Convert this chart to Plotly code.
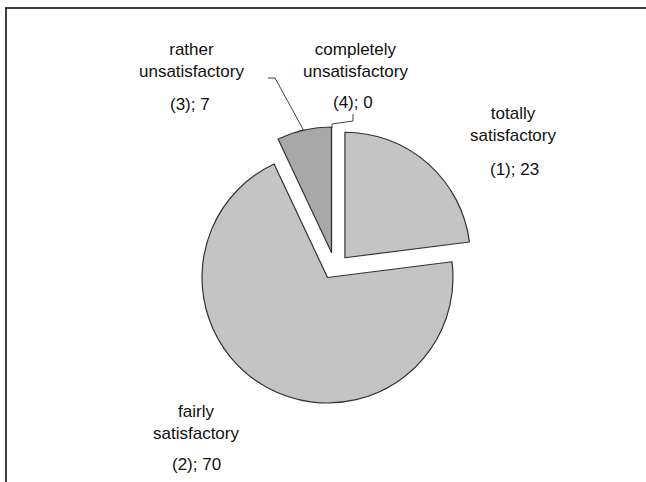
import plotly.graph_objects as go

# Survey answers, in clockwise order from 12 o'clock
codes = [1, 2, 3, 4]
names = ["totally<br>satisfactory", "fairly<br>satisfactory",
         "rather<br>unsatisfactory", "completely<br>unsatisfactory"]
values = [23, 70, 7, 0]
colors = ["#c4c4c4", "#c4c4c4", "#a8a8a8", "#a8a8a8"]

W, H = 646, 482
CX, CY, R = 327.5, 277.5, 125.5   # pie centre and radius, in pixels


def px(x):
    return x / W


def py(y):
    return 1 - y / H


def box(cx, cy, half):
    return dict(x=[px(cx - half), px(cx + half)], y=[py(cy + half), py(cy - half)])


labels = [n.replace("<br>", " ") for n in names]
edge = "#333333"

# main pie: "totally satisfactory" exploded to the upper right
pull_main = [0.21, 0.0, 0.0, 0.0]
main = go.Pie(
    values=values, labels=labels, sort=False, direction="clockwise", rotation=0,
    pull=pull_main, textinfo="none", hoverinfo="label+value",
    marker=dict(colors=[colors[0], colors[1], "rgba(0,0,0,0)", "rgba(0,0,0,0)"],
                line=dict(color=[edge, edge, "rgba(0,0,0,0)", "rgba(0,0,0,0)"], width=1.2)),
    domain=box(CX, CY, R * (1 + max(pull_main))),
    showlegend=False,
)

# "rather unsatisfactory" wedge, lifted straight up from the centre
lift_x, lift_y = 4, -25
rather = go.Pie(
    values=values, labels=labels, sort=False, direction="clockwise", rotation=0,
    textinfo="none", hoverinfo="skip",
    marker=dict(colors=["rgba(0,0,0,0)", "rgba(0,0,0,0)", colors[2], "rgba(0,0,0,0)"],
                line=dict(color=["rgba(0,0,0,0)", "rgba(0,0,0,0)", edge, "rgba(0,0,0,0)"], width=1.2)),
    domain=box(CX + lift_x, CY + lift_y, R),
    showlegend=False,
)

fig = go.Figure([main, rather])

font = dict(family="Liberation Sans, Arial, sans-serif", size=17, color="#111111")

# label blocks: (name centre x, name centre y, value centre x, value centre y)
label_pos = [
    (513, 125, 514, 169),
    (196, 422, 196, 464),
    (191, 60, 190, 104),
    (355, 60, 353, 102),
]
annotations = []
for code, name, val, (nx, ny, vx, vy) in zip(codes, names, values, label_pos):
    annotations.append(dict(x=px(nx), y=py(ny), xref="paper", yref="paper",
                            text=name, showarrow=False, font=font,
                            xanchor="center", yanchor="middle"))
    annotations.append(dict(x=px(vx), y=py(vy), xref="paper", yref="paper",
                            text=f"({code}); {val}", showarrow=False, font=font,
                            xanchor="center", yanchor="middle"))

line_style = dict(color="#444444", width=1)
shapes = [
    # frame
    dict(type="line", xref="paper", yref="paper", x0=px(5), y0=py(8), x1=1, y1=py(8),
         line=dict(color="black", width=1.5)),
    dict(type="line", xref="paper", yref="paper", x0=px(6), y0=py(8), x1=px(6), y1=0,
         line=dict(color="black", width=1.5)),
    # leader for "rather unsatisfactory"
    dict(type="path", xref="paper", yref="paper",
         path=f"M {px(268)},{py(78)} L {px(275)},{py(78)} L {px(304)},{py(131)}",
         line=line_style),
    # leader for "completely unsatisfactory"
    dict(type="path", xref="paper", yref="paper",
         path=f"M {px(353)},{py(114)} L {px(353)},{py(121)} L {px(332)},{py(124)} L {px(332)},{py(128)}",
         line=line_style),
    # zero-size wedge at 12 o'clock
    dict(type="line", xref="paper", yref="paper",
         x0=px(CX + lift_x), y0=py(CY + lift_y), x1=px(CX + lift_x), y1=py(CY + lift_y - R),
         line=dict(color=edge, width=1.2)),
]

fig.update_layout(
    width=W, height=H,
    margin=dict(l=0, r=0, t=0, b=0),
    paper_bgcolor="white",
    plot_bgcolor="white",
    annotations=annotations,
    shapes=shapes,
)

fig.write_html("out.html")
